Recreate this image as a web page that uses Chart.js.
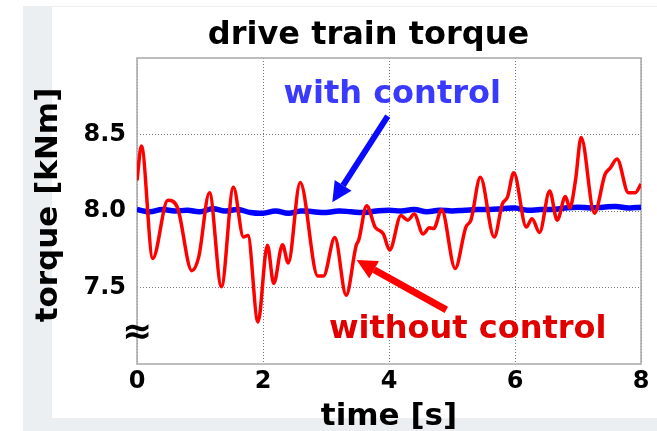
<!DOCTYPE html>
<html>
<head>
<meta charset="utf-8">
<script src="https://cdn.jsdelivr.net/npm/chart.js@4.4.1/dist/chart.umd.min.js"></script>
<style>
html, body { margin: 0; padding: 0; background: #fff; }
#wrap { width: 657px; height: 431px; }
</style>
</head>
<body>
<div id="wrap"><canvas id="chart-torque" width="657" height="431"></canvas></div>
<script>
// without control (red)
var redTime = [0.00, 0.07, 0.25, 0.49, 0.64, 0.87, 0.98, 1.15, 1.34, 1.53, 1.69, 1.76, 1.92,
	2.07, 2.17, 2.31, 2.40, 2.59, 2.87, 2.96, 3.14, 3.32, 3.48, 3.52, 3.645, 3.78, 3.91,
	4.01, 4.19, 4.30, 4.40, 4.54, 4.64, 4.71, 4.835, 5.05, 5.22, 5.30, 5.45, 5.67, 5.80,
	5.88, 5.98, 6.18, 6.27, 6.39, 6.55, 6.67, 6.80, 6.87, 6.96, 7.05, 7.26, 7.43, 7.51,
	7.62, 7.80, 7.91, 8.00];
var redTorque = [8.20, 8.425, 7.69, 8.07, 8.025, 7.61, 7.70, 8.12, 7.505, 8.155, 7.83, 7.84, 7.275,
	7.776, 7.527, 7.78, 7.66, 8.187, 7.575, 7.575, 7.826, 7.45, 7.776, 7.81, 8.035, 7.895, 7.85,
	7.745, 7.97, 7.94, 7.98, 7.85, 7.89, 7.885, 8.008, 7.625, 7.895, 7.94, 8.22, 7.83, 8.047,
	8.09, 8.25, 7.895, 7.95, 7.86, 8.13, 7.94, 8.094, 8.02, 8.2, 8.48, 7.986, 8.24, 8.28,
	8.34, 8.12, 8.12, 8.177];

// with control (blue)
var blueTime = [0.0, 0.2, 0.4, 0.6, 0.8, 1.0, 1.2, 1.4, 1.6, 1.8, 2.0, 2.2, 2.4, 2.6, 2.8,
	3.0, 3.2, 3.4, 3.6, 3.8, 4.0, 4.2, 4.4, 4.6, 4.8, 5.0, 5.2, 5.4, 5.6, 5.8, 6.0, 6.2,
	6.4, 6.6, 6.8, 7.0, 7.2, 7.4, 7.6, 7.8, 8.0];
var blueTorque = [8.01, 7.995, 8.01, 8.0, 8.005, 7.995, 8.015, 8.0, 8.01, 7.99, 7.985, 8.0,
	7.985, 8.0, 7.995, 7.99, 8.0, 7.995, 7.99, 8.0, 8.005, 8.0, 8.01, 7.995, 8.005, 8.0,
	8.005, 8.01, 8.01, 8.015, 8.02, 8.005, 8.01, 8.01, 8.02, 8.025, 8.02, 8.025, 8.03,
	8.02, 8.025];

var xTicks = [0, 2, 4, 6, 8];
var yTicks = [7.5, 8.0, 8.5];

// annotations in data units (time, torque)
var notes = [
	{ text: "with control", t: 4.05, v: 8.705, color: "#3a3aff" },
	{ text: "without control", t: 5.25, v: 7.172, color: "#e00000" }
];
var arrows = [
	{ from: [3.98, 8.62], to: [3.10, 8.057], color: "#0a0aff", width: 6 },
	{ from: [4.91, 7.354], to: [3.486, 7.679], color: "#ff0000", width: 7 }
];

var redPts = [];
for (var i = 0; i < redTime.length; i++) redPts.push({ x: redTime[i], y: redTorque[i] });
var bluePts = [];
for (var j = 0; j < blueTime.length; j++) bluePts.push({ x: blueTime[j], y: blueTorque[j] });

var FONT = "'DejaVu Sans', Verdana, sans-serif";

function drawArrow(c, x1, y1, x2, y2, color, w, head) {
	var a = Math.atan2(y2 - y1, x2 - x1);
	var bx = x2 - head * Math.cos(a), by = y2 - head * Math.sin(a);
	c.strokeStyle = color;
	c.lineWidth = w;
	c.lineCap = "butt";
	c.beginPath();
	c.moveTo(x1, y1);
	c.lineTo(bx, by);
	c.stroke();
	c.fillStyle = color;
	c.beginPath();
	c.moveTo(x2, y2);
	c.lineTo(bx + head * 0.5 * Math.sin(a), by - head * 0.5 * Math.cos(a));
	c.lineTo(bx - head * 0.5 * Math.sin(a), by + head * 0.5 * Math.cos(a));
	c.closePath();
	c.fill();
}

var decor = {
	id: "decor",
	beforeDraw: function(chart) {
		var c = chart.ctx;
		c.save();
		c.fillStyle = "#ffffff";
		c.fillRect(0, 0, chart.width, chart.height);
		c.fillStyle = "#eceff2";
		c.fillRect(23, 6, chart.width - 23, chart.height - 6);
		c.fillStyle = "#ffffff";
		c.fillRect(52, 7, chart.width - 52, 411);
		c.restore();
	},
	beforeDatasetsDraw: function(chart) {
		var c = chart.ctx, a = chart.chartArea;
		c.save();
		c.strokeStyle = "#a8a8a8";
		c.lineWidth = 1.5;
		c.strokeRect(a.left, a.top, a.right - a.left, a.bottom - a.top);
		c.restore();
	},
	afterDatasetsDraw: function(chart) {
		var c = chart.ctx, a = chart.chartArea;
		var xs = chart.scales.x, ys = chart.scales.y;
		c.save();
		// arrows
		arrows.forEach(function(ar) {
			drawArrow(c, xs.getPixelForValue(ar.from[0]), ys.getPixelForValue(ar.from[1]),
				xs.getPixelForValue(ar.to[0]), ys.getPixelForValue(ar.to[1]), ar.color, ar.width, 20);
		});
		// labels
		c.textAlign = "center";
		c.textBaseline = "alphabetic";
		c.font = "bold 32px " + FONT;
		notes.forEach(function(n) {
			c.fillStyle = n.color;
			c.fillText(n.text, xs.getPixelForValue(n.t), ys.getPixelForValue(n.v));
		});
		// axis break mark
		c.fillStyle = "#000";
		c.font = "bold 36px " + FONT;
		c.textBaseline = "middle";
		c.fillText("\u2248", a.left, ys.getPixelForValue(7.2));
		// titles
		c.textBaseline = "alphabetic";
		c.font = "bold 32px " + FONT;
		c.fillText("drive train torque", 368.5, 44);
		c.font = "bold 31px " + FONT;
		c.fillText("time [s]", (a.left + a.right) / 2, 424.5);
		c.translate(57, 205);
		c.rotate(-Math.PI / 2);
		c.fillText("torque [kNm]", 0, 0);
		c.restore();
	}
};

var ctx = document.getElementById("chart-torque").getContext("2d");
new Chart(ctx, {
	type: "line",
	data: {
		datasets: [{
			label: "without control",
			data: redPts,
			borderColor: "#ff0000",
			borderWidth: 3.5,
			pointRadius: 0,
			cubicInterpolationMode: "monotone",
			fill: false
		}, {
			label: "with control",
			data: bluePts,
			borderColor: "#0000ff",
			borderWidth: 5.5,
			pointRadius: 0,
			tension: 0.4,
			fill: false
		}]
	},
	options: {
		responsive: false,
		animation: false,
		devicePixelRatio: 1,
		layout: { padding: { left: 0, right: 16, top: 58, bottom: 0 } },
		plugins: {
			legend: { display: false },
			tooltip: { enabled: false },
			title: { display: false }
		},
		scales: {
			x: {
				type: "linear",
				min: 0,
				max: 8,
				afterFit: function(scale) { scale.height = 67; },
				afterBuildTicks: function(scale) {
					scale.ticks = xTicks.map(function(v) { return { value: v }; });
				},
				border: { display: false, dash: [1, 2] },
				grid: {
					color: "#777",
					lineWidth: 1,
					drawTicks: false
				},
				ticks: {
					color: "#000",
					padding: 3,
					maxRotation: 0,
					font: { family: FONT, size: 24, weight: "bold" },
					callback: function(v) { return v; }
				}
			},
			y: {
				min: 7,
				max: 9,
				afterFit: function(scale) { scale.width = 137; },
				afterBuildTicks: function(scale) {
					scale.ticks = yTicks.map(function(v) { return { value: v }; });
				},
				border: { display: false, dash: [1, 2] },
				grid: {
					color: "#777",
					lineWidth: 1,
					drawTicks: false
				},
				ticks: {
					color: "#000",
					padding: 11,
					font: { family: FONT, size: 24, weight: "bold" },
					callback: function(v) { return v.toFixed(1); }
				}
			}
		}
	},
	plugins: [decor]
});
</script>
</body>
</html>
